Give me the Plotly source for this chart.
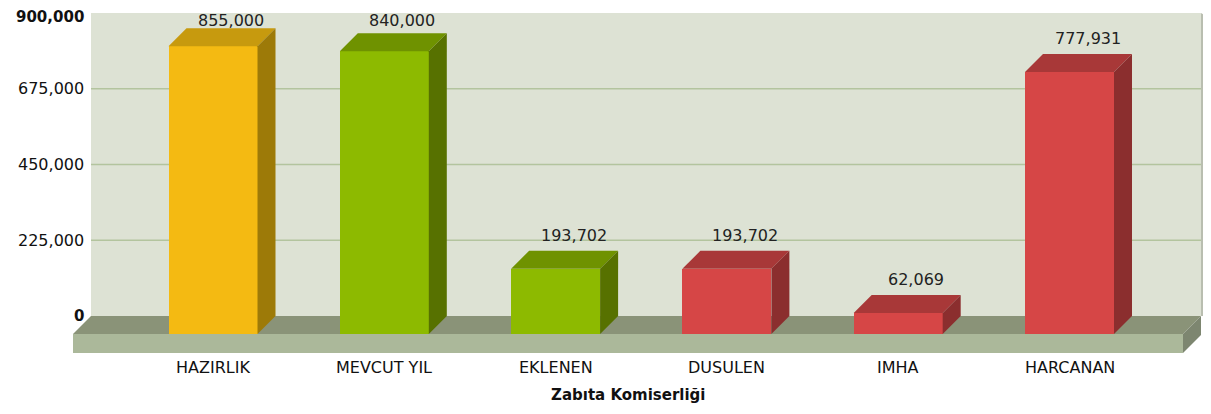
import plotly.graph_objects as go

# ---------------- data ----------------
categories = ["HAZIRLIK", "MEVCUT YIL", "EKLENEN", "DUSULEN", "IMHA", "HARCANAN"]
values = [855000, 840000, 193702, 193702, 62069, 777931]
front_colors = ["#F4BA12", "#8DBA00", "#8DBA00", "#D64646", "#D64646", "#D64646"]
top_colors = ["#C79A0E", "#6F9200", "#6F9200", "#A83838", "#A83838", "#A83838"]
side_colors = ["#9D7A08", "#577100", "#577100", "#8B2E2E", "#8B2E2E", "#8B2E2E"]
y_ticks = [0, 225000, 450000, 675000, 900000]
y_tick_labels = ["<b>0</b>", "225,000", "450,000", "675,000", "<b>900,000</b>"]
x_title = "Zabıta Komiserliği"

# ---------------- geometry ----------------
# page body has an 8px default margin; figure coordinates = screen - OFF
OFF = 8
W, H = 1211 - OFF, 414 - OFF
plot_left, plot_right, plot_top, plot_bottom = 73, 1208, 12, 354   # screen px
ml, mr, mt, mb = plot_left - OFF, W - (plot_right - OFF), plot_top - OFF, H - (plot_bottom - OFF)
pw, ph = W - ml - mr, H - mt - mb
ymax_val = 900000
wall_top_px, zero_px = 13, 316
k = (zero_px - wall_top_px) / ymax_val          # px per value unit
y_hi = ymax_val + (wall_top_px - plot_top) / k
y_lo = -(plot_bottom - zero_px) / k
step_px, first_center_px = 171.3, 213
x_lo = -(first_center_px - plot_left) / step_px
x_hi = (plot_right - first_center_px) / step_px
depth_px = 18
dx, dy = depth_px / step_px, depth_px / k
fh = 19 / k
bar_w = 89 / step_px
ffr = (1183 - first_center_px) / step_px        # floor front right
centers = list(range(len(categories)))


def py(screen_y):
    """screen y (px) -> paper y"""
    return (plot_bottom - screen_y) / ph


fig = go.Figure()

# ---------------- wall, grid, floor ----------------
wall_l, wall_r = x_lo + dx, ffr + dx
e_x, e_y = 5 / step_px, 3 / k
shapes = [
    dict(type="rect", x0=wall_l, x1=wall_r, y0=0, y1=ymax_val,
         fillcolor="#DDE2D4", line_width=0, layer="below"),
    dict(type="path",
         path=f"M{wall_r},{0} L{wall_r},{ymax_val} L{wall_r+e_x},{ymax_val-e_y} L{wall_r+e_x},{0} Z",
         fillcolor="#B9BEB0", line_width=0, layer="below"),
]
for t in y_ticks[1:-1]:
    shapes.append(dict(type="line", x0=wall_l, x1=wall_r, y0=t, y1=t,
                       line=dict(color="#B3C49E", width=1.6), layer="below"))
shapes += [
    dict(type="path",
         path=f"M{x_lo},{-dy} L{ffr},{-dy} L{ffr+dx},{0} L{x_lo+dx},{0} Z",
         fillcolor="#8A9378", line_width=0, layer="below"),
    dict(type="rect", x0=x_lo, x1=ffr, y0=-dy - fh, y1=-dy,
         fillcolor="#ABB89A", line_width=0, layer="below"),
    dict(type="path",
         path=f"M{ffr},{-dy} L{ffr+dx},{0} L{ffr+dx},{-fh} L{ffr},{-dy-fh} Z",
         fillcolor="#7D8670", line_width=0, layer="below"),
]

# ---------------- bars ----------------
fig.add_trace(go.Bar(x=centers, y=values, base=-dy, width=bar_w,
                     marker=dict(color=front_colors, line_width=0),
                     hoverinfo="skip", showlegend=False))
for c, v, tc, sc in zip(centers, values, top_colors, side_colors):
    l, r = c - bar_w / 2, c + bar_w / 2
    fig.add_trace(go.Scatter(
        x=[l, r, r + dx, l + dx, l], y=[v - dy, v - dy, v, v, v - dy],
        fill="toself", fillcolor=tc, mode="lines", line=dict(width=0),
        hoverinfo="skip", showlegend=False))
    fig.add_trace(go.Scatter(
        x=[r, r, r + dx, r + dx, r], y=[-dy, v - dy, v, 0, -dy],
        fill="toself", fillcolor=sc, mode="lines", line=dict(width=0),
        hoverinfo="skip", showlegend=False))

# ---------------- text ----------------
FONT = "DejaVu Sans"
VAL_SIZE = 16
box_h = VAL_SIZE * 1.3 + 2
ann = []
for c, v in zip(centers, values):
    back_top_px = zero_px - v * k
    # keep the label box inside the visible page
    shift = min(4, back_top_px - box_h - (OFF + 1))
    ann.append(dict(x=c + dx, y=v, xref="x", yref="y", text=f"{v:,}",
                    showarrow=False, yanchor="bottom", yshift=shift,
                    font=dict(family=FONT, size=VAL_SIZE, color="#222222")))
for t, lab in zip(y_ticks, y_tick_labels):
    ann.append(dict(x=(86 - plot_left) / pw, y=t, xref="paper", yref="y", text=lab,
                    showarrow=False, xanchor="right", yanchor="middle",
                    yshift=-4 if t == ymax_val else 0,
                    font=dict(family=FONT, size=15 if "<b>" in lab else 16, color="#111111")))
for c, cat in zip(centers, categories):
    ann.append(dict(x=c, y=py(367), xref="x", yref="paper", text=cat,
                    showarrow=False, yanchor="middle",
                    font=dict(family=FONT, size=16, color="#111111")))
ann.append(dict(x=(x_lo + ffr) / 2, y=py(395), xref="x", yref="paper",
                text=f"<b>{x_title}</b>", showarrow=False, yanchor="middle",
                font=dict(family=FONT, size=15, color="#111111")))

fig.update_layout(
    width=W, height=H, margin=dict(l=ml, r=mr, t=mt, b=mb),
    paper_bgcolor="white", plot_bgcolor="white",
    shapes=shapes, annotations=ann, showlegend=False, bargap=0,
    xaxis=dict(range=[x_lo, x_hi], showgrid=False, zeroline=False, showline=False,
               showticklabels=False, fixedrange=True),
    yaxis=dict(range=[y_lo, y_hi], showgrid=False, zeroline=False, showline=False,
               showticklabels=False, fixedrange=True),
)

fig.write_html("out.html")
